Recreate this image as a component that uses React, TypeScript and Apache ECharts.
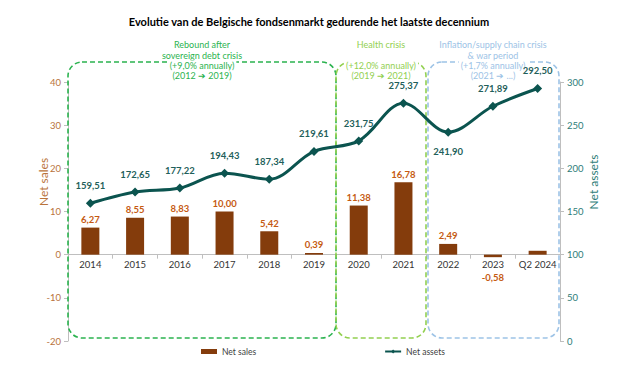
import React, { useEffect, useRef } from "react";
import * as echarts from "echarts";

const categories = ["2014", "2015", "2016", "2017", "2018", "2019", "2020", "2021", "2022", "2023", "Q2 2024"];
const netSales = [6.27, 8.55, 8.83, 10.0, 5.42, 0.39, 11.38, 16.78, 2.49, -0.58, 0.9];
const netAssets = [159.51, 172.65, 177.22, 194.43, 187.34, 219.61, 231.75, 275.37, 241.9, 271.89, 292.5];
const salesLabelled = [true, true, true, true, true, true, true, true, true, true, false];

const FONT = "Lato, 'Noto Sans', sans-serif";
const fmt = (v: number) => v.toFixed(2).replace(".", ",");

export default function App() {
  const ref = useRef<HTMLDivElement>(null);
  useEffect(() => {
    if (!ref.current) return;
    const chart = echarts.init(ref.current, null, { renderer: "svg" });
    const green = "#2bb34f";
    const lgreen = "#92d050";
    const blue = "#9dc3e6";
    const gridTop = 82;
    const gridH = 259;
    const zeroOffset = -(gridH * 20) / 60;
    const box = (x: number, w: number, color: string) => ({
      type: "rect",
      shape: { x, y: 62, width: w, height: 276, r: 14 },
      style: { fill: "none", stroke: color, lineWidth: 1.6, lineDash: [5, 3] },
      z: 1,
    });
    const txt = (x: number, y: number, text: string, color: string) => ({
      type: "text",
      x,
      y,
      z: 2,
      style: {
        text,
        fill: color,
        font: `9px ${FONT}`,
        textAlign: "center",
        textVerticalAlign: "middle",
        backgroundColor: "#fff",
        padding: [0, 2],
      },
    });
    chart.setOption({
      animation: false,
      title: {
        text: "Evolutie van de Belgische fondsenmarkt gedurende het laatste decennium",
        left: "center",
        top: 11,
        textStyle: { fontSize: 11, fontWeight: "bold", color: "#000", fontFamily: FONT },
      },
      grid: { left: 68, right: 58, top: gridTop, height: gridH },
      legend: {
        bottom: 10,
        left: 196,
        itemGap: 128,
        itemWidth: 16,
        itemHeight: 5,
        textStyle: { fontSize: 8.5, color: "#404040", fontFamily: FONT },
        data: [
          { name: "Net sales", icon: "rect" },
          { name: "Net assets" },
        ],
      },
      xAxis: {
        type: "category",
        data: categories,
        position: "bottom",
        offset: zeroOffset,
        axisLine: { onZero: false, lineStyle: { color: "#bfbfbf" } },
        axisTick: { show: true, alignWithLabel: false, length: 4, lineStyle: { color: "#bfbfbf" } },
        axisLabel: { color: "#333", fontSize: 9.5, fontFamily: FONT, margin: 5, interval: 0 },
      },
      yAxis: [
        {
          type: "value",
          min: -20,
          max: 40,
          interval: 10,
          splitLine: { show: false },
          axisLine: { show: true, lineStyle: { color: "#bfbfbf" } },
          axisTick: { show: true, length: 4, lineStyle: { color: "#bfbfbf" } },
          axisLabel: { color: "#b9733b", fontSize: 9.5, fontFamily: FONT, margin: 7 },
        },
        {
          type: "value",
          min: 0,
          max: 300,
          interval: 50,
          splitLine: { show: false },
          axisLine: { show: true, lineStyle: { color: "#bfbfbf" } },
          axisTick: { show: true, length: 4, lineStyle: { color: "#bfbfbf" } },
          axisLabel: { color: "#2e7d78", fontSize: 9.5, fontFamily: FONT, margin: 7 },
        },
      ],
      series: [
        {
          name: "Net sales",
          type: "bar",
          yAxisIndex: 0,
          barWidth: 18,
          itemStyle: { color: "#843c0c" },
          z: 3,
          data: netSales.map((v, i) => ({
            value: v,
            label: {
              show: salesLabelled[i],
              position: v < 0 ? "bottom" : "top",
              offset: v < 0 ? [0, 12] : [0, 0],
              formatter: () => fmt(v),
              color: "#c55a11",
              fontSize: 9.5,
              fontWeight: "bold",
              fontFamily: FONT,
              distance: 3,
            },
          })),
        },
        {
          name: "Net assets",
          type: "line",
          yAxisIndex: 1,
          smooth: 0.35,
          symbol: "diamond",
          symbolSize: 9,
          lineStyle: { color: "#0b544f", width: 3 },
          itemStyle: { color: "#0b544f" },
          z: 5,
          data: netAssets.map((v, i) => ({
            value: v,
            label: {
              show: true,
              position: i === 8 ? "bottom" : "top",
              distance: i === 8 ? 10 : 8,
              formatter: () => fmt(v),
              color: "#1f5f5b",
              fontSize: 9.5,
              fontWeight: "bold",
              fontFamily: FONT,
            },
          })),
        },
      ],
      graphic: [
        box(68, 268, green),
        box(336, 90, lgreen),
        box(428, 131, blue),
        txt(202, 44, "Rebound after", green),
        txt(202, 55, "sovereign debt crisis", green),
        txt(202, 65, "(+9,0% annually)", green),
        txt(202, 75, "(2012 ➔ 2019)", green),
        txt(381, 44, "Health crisis", lgreen),
        txt(381, 65, "(+12,0% annually)", lgreen),
        txt(381, 75, "(2019 ➔ 2021)", lgreen),
        txt(493, 44, "Inflation/supply chain crisis", blue),
        txt(493, 55, "& war period", blue),
        txt(493, 65, "(+1,7% annually)", blue),
        txt(493, 75, "(2021 ➔ ...)", blue),
        {
          type: "text",
          x: 43,
          y: 182,
          rotation: Math.PI / 2,
          style: { text: "Net sales", fill: "#b9733b", font: `12px ${FONT}`, textAlign: "center", textVerticalAlign: "middle" },
        },
        {
          type: "text",
          x: 593,
          y: 182,
          rotation: Math.PI / 2,
          style: { text: "Net assets", fill: "#2e7d78", font: `12px ${FONT}`, textAlign: "center", textVerticalAlign: "middle" },
        },
      ],
    });
    return () => chart.dispose();
  }, []);
  return <div ref={ref} style={{ width: 618, height: 371, position: "absolute", left: 0, top: 0 }} />;
}
